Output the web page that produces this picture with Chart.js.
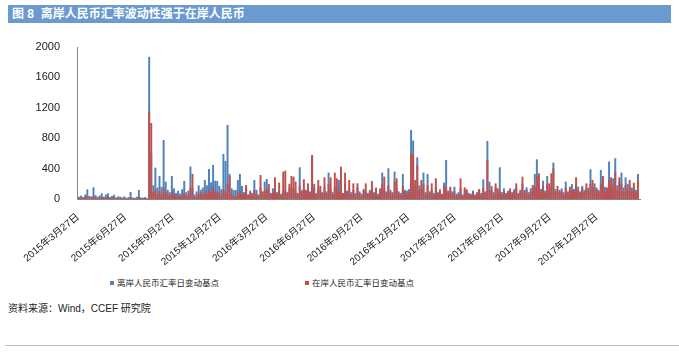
<!DOCTYPE html>
<html>
<head>
<meta charset="utf-8">
<script src="https://cdn.jsdelivr.net/npm/chart.js@4.4.1/dist/chart.umd.min.js"></script>
<style>
  body { margin: 0; width: 679px; height: 354px; background: #fff; position: relative; overflow: hidden;
         font-family: 'Liberation Sans', 'Noto Sans CJK SC', sans-serif; }
  #title { position: absolute; left: 8px; top: 5px; width: 659px; height: 18px; padding-left: 4px;
           background: #6a9ad0; color: #fff; font-weight: bold; font-size: 12px; line-height: 18px; }
  #c { position: absolute; left: 0; top: 28px; }
  #legend { position: absolute; top: 277px; left: 0; width: 679px; height: 12px; font-size: 8.5px; color: #222; }
  #legend span.item { position: absolute; top: 0; line-height: 12px; white-space: nowrap; }
  #legend i { display: inline-block; width: 4px; height: 4px; margin-right: 3px; vertical-align: 1px; }
  #src { position: absolute; left: 8px; top: 300px; font-size: 10px; color: #222; }
  #rule { position: absolute; left: 5px; right: 0; top: 345px; border-top: 1px solid #bfbfbf; }
</style>
</head>
<body>
<div id="title">图 8&nbsp;&nbsp;离岸人民币汇率波动性强于在岸人民币</div>
<canvas id="c" width="679" height="246"></canvas>
<div id="legend"></div>
<div id="src">资料来源：Wind，CCEF 研究院</div>
<div id="rule"></div>
<script>
// 每4天一个点，从2015年3月27日起
const stepDays = 4;
const tickDays = [0, 92, 184, 275, 366, 458, 550, 641, 731, 823, 915, 1006];
const tickLabels = ['2015年3月27日', '2015年6月27日', '2015年9月27日', '2015年12月27日',
  '2016年3月27日', '2016年6月27日', '2016年9月27日', '2016年12月27日',
  '2017年3月27日', '2017年6月27日', '2017年9月27日', '2017年12月27日'];
const seriesNames = ['离岸人民币汇率日变动基点', '在岸人民币汇率日变动基点'];

const offshore = [
  30, 45, 25, 60, 127, 40, 35, 154, 50, 30,
  45, 75, 30, 60, 75, 25, 40, 55, 20, 35,
  30, 20, 35, 15, 25, 92, 20, 15, 30, 118,
  20, 15, 25, 10, 1870, 600, 180, 413, 150, 303,
  160, 777, 228, 120, 90, 303, 140, 80, 110, 70,
  130, 237, 90, 110, 426, 140, 60, 100, 180, 120,
  150, 250, 180, 395, 220, 448, 240, 237, 171, 130,
  593, 500, 975, 330, 140, 118, 118, 250, 330, 171,
  90, 140, 60, 110, 80, 250, 120, 60, 150, 100,
  228, 263, 100, 80, 140, 150, 90, 120, 70, 110,
  120, 90, 150, 160, 130, 100, 80, 417, 120, 140,
  90, 130, 100, 560, 200, 80, 150, 110, 90, 160,
  100, 347, 120, 90, 150, 140, 250, 170, 80, 200,
  110, 140, 90, 120, 80, 150, 100, 70, 130, 110,
  80, 120, 150, 90, 110, 70, 140, 347, 130, 100,
  404, 120, 90, 360, 150, 100, 80, 330, 120, 110,
  130, 909, 768, 200, 549, 180, 150, 347, 90, 330,
  100, 120, 80, 160, 90, 80, 70, 215, 514, 110,
  120, 100, 162, 70, 90, 140, 60, 120, 100, 80,
  70, 110, 60, 90, 130, 80, 259, 100, 764, 228,
  120, 90, 160, 100, 417, 90, 140, 80, 110, 120,
  90, 130, 150, 80, 110, 200, 120, 154, 90, 140,
  150, 330, 522, 200, 130, 241, 110, 303, 120, 160,
  478, 130, 100, 120, 140, 90, 228, 100, 120, 197,
  130, 200, 162, 100, 171, 120, 140, 150, 391, 160,
  206, 150, 120, 382, 250, 160, 130, 492, 200, 272,
  536, 180, 230, 347, 150, 285, 200, 180, 150, 160, 120, 330
];

const onshore = [
  15, 25, 10, 30, 40, 20, 15, 35, 20, 10,
  20, 30, 15, 25, 30, 10, 15, 25, 10, 15,
  10, 10, 15, 8, 10, 25, 10, 8, 12, 30,
  10, 8, 12, 5, 1150, 1000, 90, 120, 60, 110,
  70, 150, 90, 60, 40, 100, 60, 30, 50, 35,
  60, 80, 40, 50, 150, 330, 30, 40, 70, 90,
  60, 110, 70, 120, 80, 150, 100, 90, 80, 40,
  120, 90, 200, 303, 60, 40, 30, 80, 100, 60,
  70, 184, 50, 90, 60, 120, 70, 40, 316, 90,
  110, 130, 197, 60, 90, 285, 70, 215, 50, 360,
  373, 80, 200, 303, 294, 228, 60, 180, 90, 259,
  120, 206, 70, 580, 150, 60, 250, 171, 80, 285,
  80, 200, 285, 60, 347, 272, 100, 426, 60, 347,
  100, 250, 60, 206, 50, 206, 80, 40, 120, 206,
  60, 100, 237, 70, 150, 40, 120, 200, 294, 80,
  180, 90, 60, 230, 272, 80, 50, 170, 100, 60,
  80, 600, 580, 250, 448, 120, 250, 200, 60, 180,
  80, 206, 60, 272, 70, 127, 50, 180, 150, 90,
  162, 70, 100, 40, 60, 272, 50, 154, 127, 60,
  50, 97, 40, 70, 127, 60, 150, 80, 514, 120,
  171, 60, 206, 140, 120, 60, 100, 50, 90, 140,
  70, 100, 206, 60, 120, 294, 80, 120, 60, 100,
  184, 160, 303, 338, 90, 180, 80, 200, 206, 338,
  404, 100, 171, 90, 100, 60, 150, 80, 162, 120,
  100, 285, 120, 80, 150, 90, 206, 110, 200, 250,
  150, 120, 90, 200, 303, 100, 150, 250, 285, 180,
  360, 120, 285, 200, 100, 180, 120, 250, 110, 215, 90, 250
];

const yTicks = { min: 0, max: 2000, step: 400 };
const colors = ['#4f81bd', '#c0504d'];

const toPoints = arr => arr.map((v, i) => ({ x: i * stepDays + stepDays / 2, y: v }));

Chart.defaults.font.family = "'Liberation Sans', 'Noto Sans CJK SC', sans-serif";
Chart.defaults.color = '#1a1a1a';

const chart = new Chart(document.getElementById('c'), {
  type: 'bar',
  data: {
    datasets: [
      { label: seriesNames[0], data: toPoints(offshore), backgroundColor: colors[0], order: 1 },
      { label: seriesNames[1], data: toPoints(onshore), backgroundColor: colors[1], order: 0 }
    ]
  },
  options: {
    responsive: false,
    animation: false,
    events: [],
    grouped: false,
    categoryPercentage: 0.95,
    barPercentage: 1,
    borderWidth: 0,
    layout: { padding: { top: 19, right: 39, left: 0, bottom: 0 } },
    plugins: { legend: { display: false }, tooltip: { enabled: false } },
    scales: {
      x: {
        type: 'linear',
        offset: false,
        min: -2,
        max: 1090,
        grid: { display: false },
        border: { display: true, color: '#868686', width: 1 },
        afterBuildTicks: s => { s.ticks = tickDays.map(v => ({ value: v })); },
        afterFit: s => { s.height = 75; },
        ticks: {
          autoSkip: false,
          minRotation: 40,
          maxRotation: 40,
          padding: 4,
          font: { size: 10 },
          callback: v => tickLabels[tickDays.indexOf(v)] || ''
        }
      },
      y: {
        min: yTicks.min,
        max: yTicks.max,
        grid: { display: false },
        border: { display: true, color: '#868686', width: 1 },
        afterFit: s => { s.width = 77; },
        ticks: { stepSize: yTicks.step, padding: 9, font: { size: 11 }, callback: v => String(v) }
      }
    }
  }
});

// 图例（位置按原图放置）
const legendX = [110, 305];
const legend = document.getElementById('legend');
chart.data.datasets.forEach((ds, i) => {
  const item = document.createElement('span');
  item.className = 'item';
  item.style.left = legendX[i] + 'px';
  item.innerHTML = '<i style="background:' + ds.backgroundColor + '"></i>' + ds.label;
  legend.appendChild(item);
});
</script>
</body>
</html>
